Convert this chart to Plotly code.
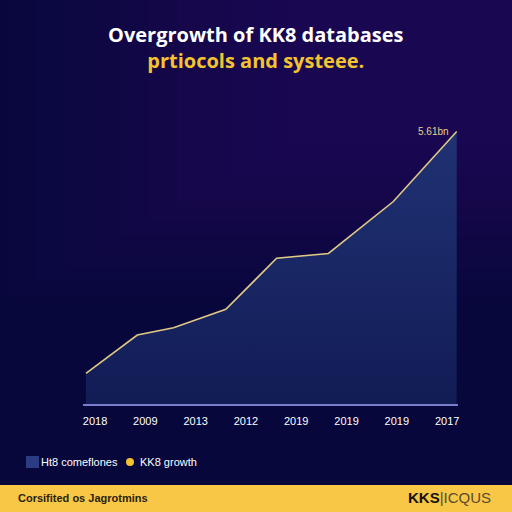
import plotly.graph_objects as go

# ---- data ----
tick_labels = ["2018", "2009", "2013", "2012", "2019", "2019", "2019", "2017"]
tick_pos = [0, 1, 2, 3, 4, 5, 6, 7]
x_vals = [-0.18, 0.84, 1.56, 2.60, 3.61, 4.64, 5.93, 7.19]
y_vals = [0.63, 1.42, 1.57, 1.95, 3.00, 3.10, 4.17, 5.61]
series_name = "Ht8 comeflones"
second_legend = "KK8 growth"
end_label = "5.61bn"
title_line1 = "Overgrowth of KK8 databases"
title_line2 = "prtiocols and systeee."
footer_left = "Corsifited os Jagrotmins"

fig = go.Figure()
fig.add_trace(go.Scatter(
    x=x_vals, y=y_vals, mode="lines", name=series_name,
    line=dict(color="#e2c985", width=1.6),
    fill="tozeroy",
    fillgradient=dict(type="vertical",
                      colorscale=[[0, "#121c55"], [1, "#203274"]]),
    showlegend=False, hoverinfo="skip",
))

fig.add_annotation(x=x_vals[-1], y=y_vals[-1], text=end_label,
                   showarrow=False, xanchor="right", yanchor="middle",
                   xshift=-6, font=dict(color="#e8cf8a", size=10,
                                        family="Liberation Sans"))

shapes = []
# background gradient towards top-right purple
for i in range(12):
    f = i / 12
    shapes.append(dict(type="rect", xref="paper", yref="paper",
                       x0=-0.2 + 0.9 * f, x1=1.3, y0=0.35 + 0.6 * f, y1=1.5,
                       fillcolor="#3a0c78", opacity=0.05, line_width=0,
                       layer="below"))
# footer band
shapes.append(dict(type="rect", xref="paper", yref="paper",
                   x0=-0.3, x1=1.3, y0=-0.45, y1=-0.2664,
                   fillcolor="#f8c746", line_width=0, layer="above"))
# legend square and dot
shapes.append(dict(type="rect", xref="paper", yref="paper",
                   x0=-0.1520, x1=-0.1173, y0=-0.2105, y1=-0.1711,
                   fillcolor="#2b3b84", line_width=0))
shapes.append(dict(type="circle", xref="paper", yref="paper",
                   x0=0.1147, x1=0.1360, y0=-0.2039, y1=-0.1776,
                   fillcolor="#f2c230", line_width=0))
fig.update_layout(shapes=shapes)

# legend texts and footer
fig.add_annotation(xref="paper", yref="paper", x=-0.118, y=-0.1908,
                   text=series_name, showarrow=False, xanchor="left",
                   yanchor="middle",
                   font=dict(color="#ffffff", size=11, family="Liberation Sans"))
fig.add_annotation(xref="paper", yref="paper", x=0.146, y=-0.1908,
                   text=second_legend, showarrow=False, xanchor="left",
                   yanchor="middle",
                   font=dict(color="#ffffff", size=11, family="Liberation Sans"))
fig.add_annotation(xref="paper", yref="paper", x=-0.178, y=-0.3092,
                   text="<b>" + footer_left + "</b>", showarrow=False,
                   xanchor="left", yanchor="middle",
                   font=dict(color="#2a1e10", size=11, family="Liberation Sans"))
fig.add_annotation(xref="paper", yref="paper", x=0.862, y=-0.3092,
                   text="<b>KKS</b><span style='color:#5a4a30'>|ICQUS</span>",
                   showarrow=False, xanchor="left", yanchor="middle",
                   font=dict(color="#15110a", size=15, family="Liberation Sans"))

# title (two lines in one block)
fig.add_annotation(xref="paper", yref="paper", x=0.461, y=1.1727,
                   text="<b>" + title_line1 + "</b><br><b><span style='color:#f4c430'>"
                        + title_line2 + "</span></b>",
                   showarrow=False, xanchor="center", yanchor="middle",
                   align="center",
                   font=dict(color="#ffffff", size=20, family="Open Sans"))

fig.update_layout(
    width=512, height=512,
    margin=dict(l=83, r=54, t=100, b=108),
    paper_bgcolor="#07073c", plot_bgcolor="rgba(0,0,0,0)",
    showlegend=False,
    xaxis=dict(range=[-0.239, 7.216], tickvals=tick_pos, ticktext=tick_labels,
               showgrid=False, zeroline=False, showline=True,
               linecolor="#7a7ccc", linewidth=2, ticks="",
               ticklabelstandoff=6,
               tickfont=dict(color="#ffffff", size=11, family="Liberation Sans")),
    yaxis=dict(range=[0, 6.26], visible=False, showgrid=False),
)

fig.write_html("out.html", config={"displayModeBar": False})
with open("out.html", "r", encoding="utf-8") as fh:
    html = fh.read()
html = html.replace("<head>", "<head><style>html,body{margin:0;padding:0;overflow:hidden;background:#07073c;}</style>", 1)
with open("out.html", "w", encoding="utf-8") as fh:
    fh.write(html)
